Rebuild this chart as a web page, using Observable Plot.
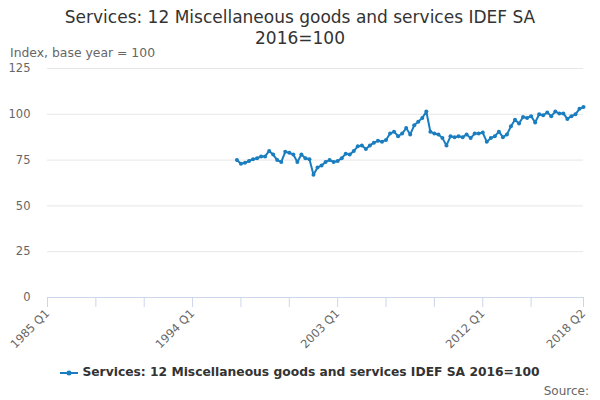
<!DOCTYPE html>
<html>
<head>
<meta charset="utf-8">
<script src="https://cdn.jsdelivr.net/npm/d3@7"></script>
<script src="https://cdn.jsdelivr.net/npm/@observablehq/plot@0.6"></script>
<style>
  body { margin: 0; font-family: "DejaVu Sans", sans-serif; background: #fff; }
  #wrap { position: relative; width: 600px; height: 400px; overflow: hidden; }
  #title { position: absolute; top: 7px; left: 0; width: 600px; text-align: center; font-size: 17px; line-height: 21px; color: #333; }
  #ylabel { position: absolute; top: 45px; left: 10px; font-size: 12.4px; color: #666; }
  #chart { position: absolute; top: 60px; left: 0; }
  #legend { position: absolute; top: 365px; left: 0; width: 600px; text-align: center; font-size: 12.3px; font-weight: bold; color: #333; }
  #legend svg { vertical-align: middle; margin-right: 4px; }
  #source { position: absolute; top: 384px; right: 11px; font-size: 12px; color: #666; }
</style>
</head>
<body>
<div id="wrap">
  <div id="title">Services: 12 Miscellaneous goods and services IDEF SA<br>2016=100</div>
  <div id="ylabel">Index, base year = 100</div>
  <div id="chart"></div>
  <div id="legend"><svg width="18" height="8"><line x1="0" y1="4" x2="18" y2="4" stroke="#1a7dc0" stroke-width="2"/><circle cx="9" cy="4" r="2.5" fill="#1a7dc0"/></svg>Services: 12 Miscellaneous goods and services IDEF SA 2016=100</div>
  <div id="source">Source:</div>
</div>
<script>
const seriesName = "Services: 12 Miscellaneous goods and services IDEF SA 2016=100";
const startYear = 1996;
const startQuarter = 4;
const values = [
  75, 73, 73.5, 74.5, 75.5, 76, 77, 77, 80, 78,
  75, 74, 79.5, 79, 78, 74, 78, 76, 75.5, 67,
  71, 72, 74, 75, 74, 74.5, 76, 78.5, 78, 80,
  82.5, 83, 81, 83, 84.5, 85.5, 85, 86, 89.5, 90.5,
  88, 89.5, 92.5, 89, 94, 96, 98, 101.5, 90.5, 89.5,
  89, 87, 83, 88, 87.5, 88, 87.5, 89, 87, 89.5,
  89.5, 90, 85, 87, 88, 90.5, 87.5, 89, 93.5, 97,
  95, 98.5, 98, 99, 95.5, 100, 99.5, 101, 99, 101.5,
  100.5, 100.5, 97.5, 99, 100, 103, 104
];
const xDomain = [1985, 2018.25];
const xTicks = [1985, 1988, 1991, 1994, 1997, 2000, 2003, 2006, 2009, 2012, 2015, 2018.25];
const xTickLabels = {1985: "1985 Q1", 1994: "1994 Q1", 2003: "2003 Q1", 2012: "2012 Q1", 2018.25: "2018 Q2"};
const yTicks = [0, 25, 50, 75, 100, 125];

const data = values.map((v, i) => {
  const q0 = (startQuarter - 1) + i;
  const year = startYear + Math.floor(q0 / 4);
  const q = (q0 % 4) + 1;
  return {t: year + (q - 1) / 4, label: `${year} Q${q}`, value: v};
});

const color = "#1a7dc0";
const chart = Plot.plot({
  width: 600,
  height: 290,
  marginLeft: 47,
  marginRight: 17,
  marginTop: 8,
  marginBottom: 53,
  style: {fontFamily: "DejaVu Sans, sans-serif", fontSize: "11px", color: "#666", background: "transparent"},
  x: {domain: xDomain, ticks: xTicks, label: null},
  y: {domain: [0, 125], ticks: yTicks, label: null},
  marks: [
    Plot.gridY(yTicks, {stroke: "#e6e6e6", strokeOpacity: 1}),
    Plot.ruleY([0], {stroke: "#ccd6eb", strokeWidth: 1}),
    Plot.axisY(yTicks, {tickSize: 0, tickPadding: 17, fontSize: 11.5, fill: "#666"}),
    Plot.axisX(xTicks, {tickSize: 10, stroke: "#ccd6eb", strokeOpacity: 1, tickFormat: d => xTickLabels[d] ?? "", tickRotate: -45, fontSize: 11.5, fill: "#666", tickPadding: 4}),
    Plot.line(data, {x: "t", y: "value", stroke: color, strokeWidth: 2}),
    Plot.dot(data, {x: "t", y: "value", fill: color, r: 2, title: d => `${d.label}: ${d.value}`})
  ]
});
document.getElementById("chart").appendChild(chart);
</script>
</body>
</html>
